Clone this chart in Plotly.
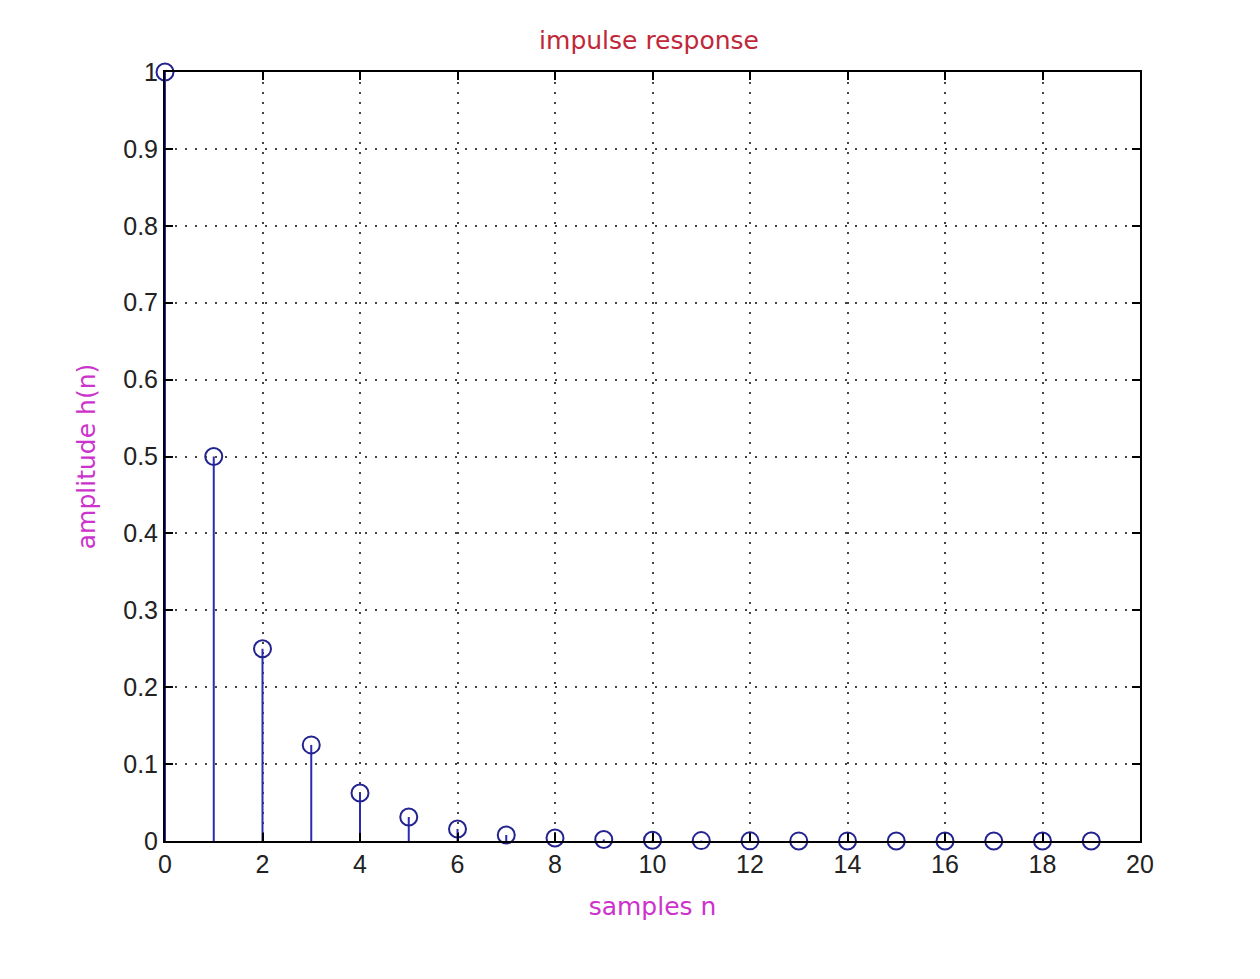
import plotly.graph_objs as go

# impulse response samples h(n)
n = list(range(20))
h = [1.0, 0.5, 0.25, 0.125, 0.0625, 0.03125, 0.015625, 0.0078125,
     0.0039, 0.002, 0.001, 0.0005, 0.0002, 0.0001, 0.0001,
     0.0, 0.0, 0.0, 0.0, 0.0]

x_ticks = [0, 2, 4, 6, 8, 10, 12, 14, 16, 18, 20]
y_ticks = [0, 0.1, 0.2, 0.3, 0.4, 0.5, 0.6, 0.7, 0.8, 0.9, 1]
y_labels = ["0", "0.1", "0.2", "0.3", "0.4", "0.5", "0.6", "0.7", "0.8", "0.9", "1"]

# stems: vertical segments from 0 up to each value
stem_x, stem_y = [], []
for xi, yi in zip(n, h):
    stem_x += [xi, xi, None]
    stem_y += [0, yi, None]

fig = go.Figure()
fig.add_trace(go.Scatter(x=stem_x, y=stem_y, mode="lines",
                         line=dict(color="#2b2bb0", width=2),
                         hoverinfo="skip", showlegend=False))
fig.add_trace(go.Scatter(x=n, y=h, mode="markers",
                         marker=dict(symbol="circle-open", size=17,
                                     color="#23238f", line=dict(width=2)),
                         showlegend=False, cliponaxis=False))

label_font = dict(family="DejaVu Sans", size=25, color="#cc33cc")

axis_common = dict(
    showline=True, linecolor="black", linewidth=2, mirror="ticks",
    ticks="inside", ticklen=8, tickcolor="black", tickwidth=2,
    showgrid=True, gridcolor="#444444", gridwidth=1.5, griddash="2px,8px",
    zeroline=False,
    tickfont=dict(family="Liberation Sans, Arial", size=25, color="#222222"),
)

fig.update_xaxes(range=[0, 20], tickvals=x_ticks, **axis_common,
                 title=dict(text="samples n", standoff=20, font=label_font))
fig.update_yaxes(range=[0, 1], tickvals=y_ticks, ticktext=y_labels, **axis_common,
                 title=dict(text="amplitude h(n)", standoff=20, font=label_font))

# page body adds an 8px offset, so the margins are trimmed by that
fig.update_layout(
    width=1252, height=971,
    margin=dict(l=157, r=120, t=64, b=138),
    paper_bgcolor="white", plot_bgcolor="white",
    title=dict(text="impulse response", x=0.512, xanchor="center", y=0.967, yanchor="middle",
               font=dict(family="DejaVu Sans", size=25, color="#c0283a")),
)

fig.write_html("out.html")
